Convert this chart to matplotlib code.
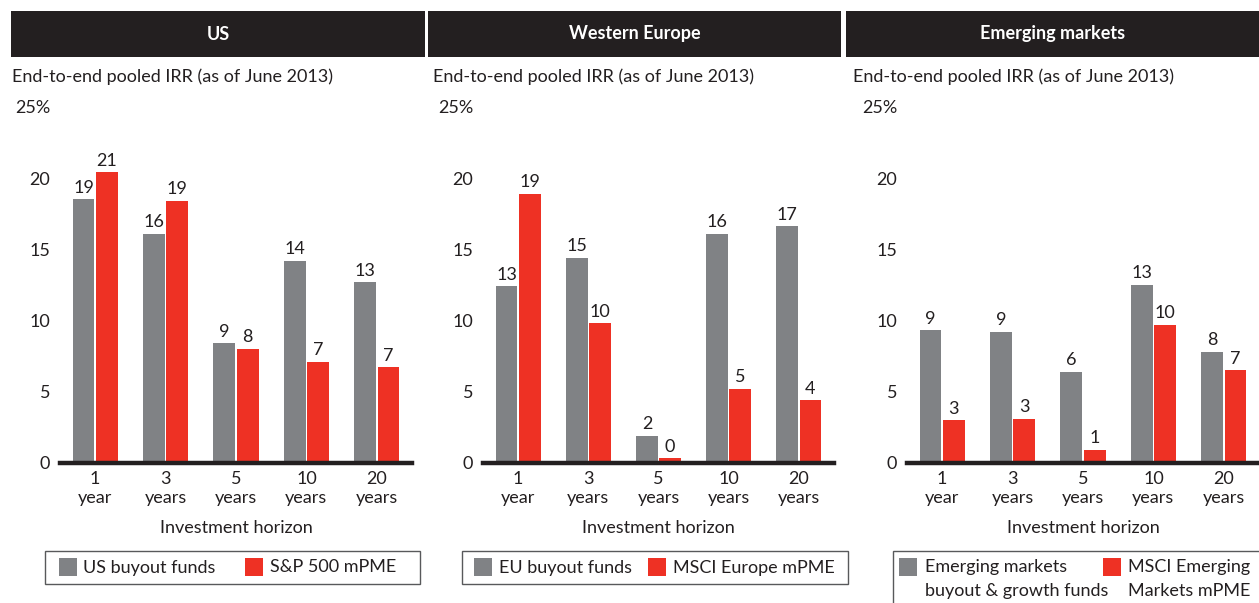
import matplotlib
matplotlib.use('Agg')
import matplotlib.pyplot as plt
from matplotlib.patches import Rectangle
import numpy as np

W, H = 1259, 603
DARK = '#231F20'
GRAY = '#808285'
RED = '#EE3124'
FS = 13

horizons = ["1\nyear", "3\nyears", "5\nyears", "10\nyears", "20\nyears"]
y_ticks = [0, 5, 10, 15, 20, 25]
y_tick_labels = ["0", "5", "10", "15", "20", "25%"]

# bar heights and printed labels
us_funds = [18.5, 16.1, 8.4, 14.2, 12.7]
us_funds_lbl = [19, 16, 9, 14, 13]
us_pme = [20.4, 18.4, 8.0, 7.1, 6.7]
us_pme_lbl = [21, 19, 8, 7, 7]

eu_funds = [12.4, 14.4, 1.9, 16.1, 16.6]
eu_funds_lbl = [13, 15, 2, 16, 17]
eu_pme = [18.9, 9.8, 0.3, 5.2, 4.4]
eu_pme_lbl = [19, 10, 0, 5, 4]

em_funds = [9.3, 9.2, 6.4, 12.5, 7.8]
em_funds_lbl = [9, 9, 6, 13, 8]
em_pme = [3.0, 3.1, 0.9, 9.7, 6.5]
em_pme_lbl = [3, 3, 1, 10, 7]

plt.rcParams['font.family'] = ['Lato', 'DejaVu Sans']
plt.rcParams['text.color'] = DARK

fig = plt.figure(figsize=(W / 100, H / 100), dpi=100)


def fx(x):
    return x / W


def fy(y):
    return 1 - y / H


Y0 = 462.7          # pixel row of value 0
UNIT = 14.23        # pixels per percentage point

panels = [
    dict(title="US", head=(11, 425), sub_x=12, axis=(60, 412),
         funds=us_funds, funds_lbl=us_funds_lbl, pme=us_pme, pme_lbl=us_pme_lbl,
         box=(45, 420, 551, 584), items=[(59, 83, "US buyout funds"), (245, 270, "S&P 500 mPME")]),
    dict(title="Western Europe", head=(428, 841), sub_x=433, axis=(483, 834),
         funds=eu_funds, funds_lbl=eu_funds_lbl, pme=eu_pme, pme_lbl=eu_pme_lbl,
         box=(462, 848, 551, 584), items=[(474, 499, "EU buyout funds"), (648, 673, "MSCI Europe mPME")]),
    dict(title="Emerging markets", head=(846, 1259), sub_x=853, axis=(907, 1259),
         funds=em_funds, funds_lbl=em_funds_lbl, pme=em_pme, pme_lbl=em_pme_lbl,
         box=(893, 1262, 551, 610),
         items=[(899, 925, "Emerging markets\nbuyout & growth funds"),
                (1103, 1128, "MSCI Emerging\nMarkets mPME")]),
]

x = np.arange(len(horizons))
bw = 0.31
off = 0.165

for p in panels:
    # black header bar
    h0, h1 = p['head']
    fig.add_artist(Rectangle((fx(h0), fy(57)), fx(h1 - h0), 46 / H,
                             transform=fig.transFigure, color=DARK, lw=0))
    fig.text(fx((h0 + h1) / 2), fy(34), p['title'], color='white', fontsize=FS,
             fontweight='bold', ha='center', va='center')
    fig.text(fx(p['sub_x']), fy(77), "End-to-end pooled IRR (as of June 2013)",
             fontsize=FS, ha='left', va='center')

    a0, a1 = p['axis']
    top = Y0 - 25 * UNIT
    ax = fig.add_axes([fx(a0), fy(Y0), fx(a1 - a0), (Y0 - top) / H])
    ax.bar(x - off, p['funds'], bw, color=GRAY, zorder=2)
    ax.bar(x + off, p['pme'], bw, color=RED, zorder=2)
    for i in range(len(x)):
        ax.text(x[i] - off, p['funds'][i] + 0.45, str(p['funds_lbl'][i]),
                ha='center', va='baseline', fontsize=FS)
        ax.text(x[i] + off, p['pme'][i] + 0.45, str(p['pme_lbl'][i]),
                ha='center', va='baseline', fontsize=FS)
    ax.axhline(0, color=DARK, lw=3.2, zorder=3, clip_on=False)

    ax.set_xlim(-0.5, len(x) - 0.5)
    ax.set_ylim(0, 25)
    ax.set_yticks(y_ticks)
    ax.set_yticklabels(y_tick_labels)
    ax.set_xticks(x)
    ax.set_xticklabels(horizons, linespacing=1.2)
    ax.tick_params(axis='y', length=0, pad=7, labelsize=FS, labelcolor=DARK)
    ax.tick_params(axis='x', length=0, pad=6, labelsize=FS, labelcolor=DARK)
    for s in ax.spines.values():
        s.set_visible(False)
    ax.patch.set_alpha(0)

    fig.text(fx((a0 + a1) / 2), fy(528), "Investment horizon", fontsize=FS,
             ha='center', va='center')

    # legend box
    b0, b1, bt, bb = p['box']
    fig.add_artist(Rectangle((fx(b0), fy(bb)), fx(b1 - b0), (bb - bt) / H,
                             transform=fig.transFigure, fill=False,
                             edgecolor='#58595B', lw=1))
    for (sq, tx, label), col in zip(p['items'], [GRAY, RED]):
        fig.add_artist(Rectangle((fx(sq), fy(576)), fx(18), 18 / H,
                                 transform=fig.transFigure, color=col, lw=0))
        if '\n' in label:
            fig.text(fx(tx), fy(559), label, fontsize=FS, ha='left', va='top',
                     linespacing=1.65)
        else:
            fig.text(fx(tx), fy(567.5), label, fontsize=FS, ha='left', va='center')

fig.savefig('out.png', dpi=100)
